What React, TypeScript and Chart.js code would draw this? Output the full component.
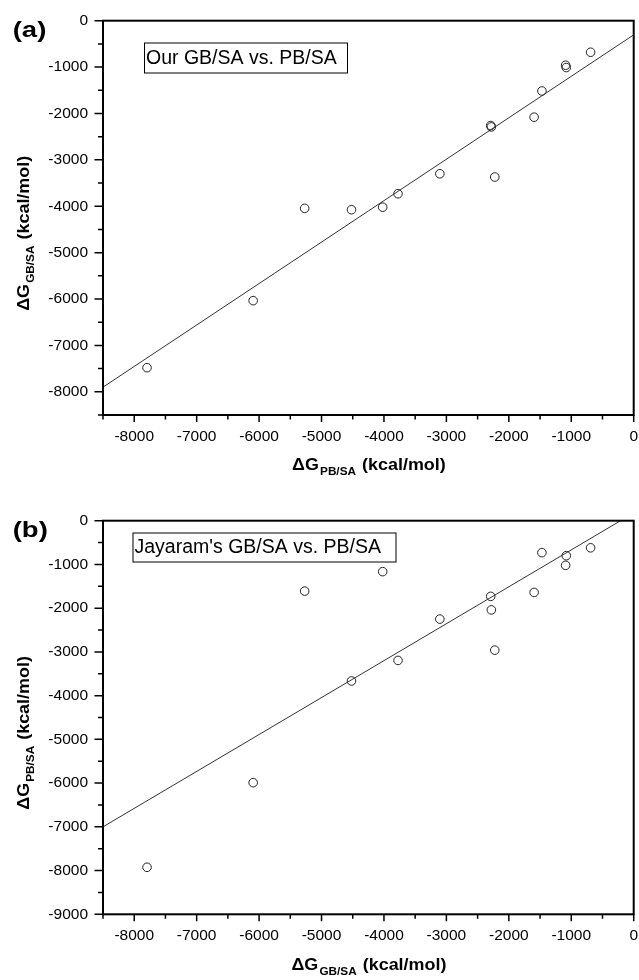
import React, { useEffect, useRef } from 'react';
import { Chart, registerables } from 'chart.js';

Chart.register(...registerables);

// ---------- Data ----------
// Panel (a): x = ΔG PB/SA, y = ΔG GB/SA (our)
const panelAX = [-690, -1090, -1080, -1470, -1595, -2290, -2280, -2225, -3105, -3775, -4520, -4020, -5270, -6095, -7795];
const panelAY = [-680, -960, -1010, -1515, -2080, -2260, -2290, -3370, -3300, -3730, -4075, -4020, -4045, -6035, -7480];
const fitAX = [-8500, 0];
const fitAY = [-7900, -305];

// Panel (b): x = ΔG GB/SA (Jayaram), y = ΔG PB/SA
const panelBX = [-690, -1080, -1090, -1470, -1595, -2290, -2280, -2225, -3105, -3775, -4520, -4020, -5270, -6095, -7795];
const panelBY = [-620, -800, -1020, -730, -1640, -1730, -2040, -2960, -2250, -3195, -3665, -1165, -1610, -5990, -7925];
const fitBX = [-8500, -210];
const fitBY = [-7000, 0];

// Tick labels
const xTicks = [-8000, -7000, -6000, -5000, -4000, -3000, -2000, -1000, 0];
const yTicksA = [0, -1000, -2000, -3000, -4000, -5000, -6000, -7000, -8000];
const yTicksB = [0, -1000, -2000, -3000, -4000, -5000, -6000, -7000, -8000, -9000];

const FONT = '"Liberation Sans", Arial, Helvetica, sans-serif';

type PanelCfg = {
  xs: number[];
  ys: number[];
  fx: number[];
  fy: number[];
  yTicks: number[];
  yMin: number;
  top: number;
  bottomH: number;
  label: string;
  box: { x0: number; y0: number; x1: number; y1: number; text: string };
  xSub: string;
  ySub: string;
};

function drawAxisTitle(ctx: CanvasRenderingContext2D, cx: number, cy: number, sub: string, rotated: boolean) {
  const SX = 1.12;
  const main = `bold 16px ${FONT}`;
  const small = `bold 10.5px ${FONT}`;
  ctx.save();
  ctx.translate(cx, cy);
  if (rotated) ctx.rotate(-Math.PI / 2);
  ctx.scale(SX, 1);
  ctx.fillStyle = '#000';
  ctx.textBaseline = 'middle';
  ctx.textAlign = 'left';
  ctx.font = main;
  const w1 = ctx.measureText('\u0394G').width;
  const w3 = ctx.measureText(' (kcal/mol)').width;
  ctx.font = small;
  const w2 = ctx.measureText(sub).width + 1;
  let x = -(w1 + w2 + w3) / 2;
  ctx.font = main;
  ctx.fillText('\u0394G', x, 0);
  x += w1 + 1;
  ctx.font = small;
  ctx.fillText(sub, x, 6.5);
  x += w2;
  ctx.font = main;
  ctx.fillText(' (kcal/mol)', x, 0);
  ctx.restore();
}

function makeDecor(cfg: PanelCfg) {
  return {
    id: 'decor' + cfg.label,
    afterDraw(chart: any) {
      const ctx: CanvasRenderingContext2D = chart.ctx;
      const { left, right, top, bottom } = chart.chartArea;
      const xs = chart.scales.x;
      const ys = chart.scales.y;
      ctx.save();
      ctx.strokeStyle = '#000';
      // frame
      ctx.lineWidth = 2;
      ctx.strokeRect(left, top, right - left, bottom - top);
      // ticks
      ctx.lineWidth = 1.5;
      ctx.beginPath();
      for (let v = ys.min; v <= ys.max + 1e-6; v += 500) {
        const p = ys.getPixelForValue(v);
        const len = Math.round(v) % 1000 === 0 ? 8.5 : 5;
        ctx.moveTo(left - len, p);
        ctx.lineTo(left, p);
      }
      for (let v = xs.min; v <= xs.max + 1e-6; v += 500) {
        const p = xs.getPixelForValue(v);
        const len = Math.round(v) % 1000 === 0 ? 7 : 4.5;
        ctx.moveTo(p, bottom);
        ctx.lineTo(p, bottom + len);
      }
      ctx.stroke();

      // axis titles
      drawAxisTitle(ctx, (left + right) / 2, bottom + 51, cfg.xSub, false);
      drawAxisTitle(ctx, 25, (top + bottom) / 2 + 16, cfg.ySub, true);

      // panel label
      ctx.save();
      ctx.translate(12.7, top + 10.5);
      ctx.scale(1.25, 1);
      ctx.font = `bold 22px ${FONT}`;
      ctx.fillStyle = '#000';
      ctx.textBaseline = 'middle';
      ctx.textAlign = 'left';
      ctx.fillText(cfg.label, 0, 0);
      ctx.restore();

      // annotation box
      const b = cfg.box;
      ctx.lineWidth = 1;
      ctx.strokeRect(b.x0 + 0.5, b.y0 + 0.5, b.x1 - b.x0, b.y1 - b.y0);
      ctx.font = `19.5px ${FONT}`;
      ctx.fillStyle = '#000';
      ctx.textBaseline = 'middle';
      ctx.textAlign = 'left';
      ctx.fillText(b.text, b.x0 + 2, (b.y0 + b.y1) / 2 + 1);
      ctx.restore();
    },
  };
}

function Panel({ cfg }: { cfg: PanelCfg }) {
  const ref = useRef<HTMLCanvasElement>(null);
  useEffect(() => {
    const canvas = ref.current!;
    const pts = cfg.xs.map((x, i) => ({ x, y: cfg.ys[i] }));
    const fit = cfg.fx.map((x, i) => ({ x, y: cfg.fy[i] }));
    const chart = new Chart(canvas, {
      type: 'scatter',
      data: {
        datasets: [
          {
            type: 'line',
            data: fit,
            borderColor: '#333',
            borderWidth: 1,
            pointRadius: 0,
            fill: false,
          } as any,
          {
            data: pts,
            pointStyle: 'circle',
            pointRadius: 4.3,
            borderColor: '#222',
            borderWidth: 1,
            backgroundColor: 'rgba(0,0,0,0)',
          },
        ],
      },
      options: {
        animation: false,
        responsive: false,
        devicePixelRatio: 1,
        events: [],
        layout: { padding: { left: 0, right: 4, top: cfg.top, bottom: 0 } },
        plugins: { legend: { display: false }, tooltip: { enabled: false } },
        scales: {
          x: {
            type: 'linear',
            min: -8500,
            max: 0,
            grid: { display: false, drawTicks: false },
            border: { display: false },
            afterBuildTicks: (s: any) => {
              s.ticks = xTicks.map((v) => ({ value: v }));
            },
            afterFit: (s: any) => {
              s.height = cfg.bottomH;
              s.paddingLeft = 0;
              s.paddingRight = 0;
            },
            ticks: {
              color: '#000',
              padding: 12,
              maxRotation: 0,
              autoSkip: false,
              font: { family: FONT, size: 15.5 },
              callback: (v: any) => String(v),
            },
          },
          y: {
            type: 'linear',
            min: cfg.yMin,
            max: 0,
            grid: { display: false, drawTicks: false },
            border: { display: false },
            afterBuildTicks: (s: any) => {
              s.ticks = cfg.yTicks.map((v) => ({ value: v }));
            },
            afterFit: (s: any) => {
              s.width = 103;
              s.paddingTop = 0;
              s.paddingBottom = 0;
            },
            ticks: {
              color: '#000',
              padding: 15,
              autoSkip: false,
              font: { family: FONT, size: 15.5 },
              callback: (v: any) => String(v),
            },
          },
        },
      },
      plugins: [makeDecor(cfg)],
    });
    return () => chart.destroy();
  }, [cfg]);
  return <canvas ref={ref} width={639} height={490} style={{ display: 'block', width: '639px', height: '490px' }} />;
}

const cfgA: PanelCfg = {
  xs: panelAX,
  ys: panelAY,
  fx: fitAX,
  fy: fitAY,
  yTicks: yTicksA,
  yMin: -8500,
  top: 20.7,
  bottomH: 75,
  label: '(a)',
  box: { x0: 144, y0: 42.5, x1: 347, y1: 72.5, text: 'Our GB/SA vs. PB/SA' },
  xSub: 'PB/SA',
  ySub: 'GB/SA',
};

const cfgB: PanelCfg = {
  xs: panelBX,
  ys: panelBY,
  fx: fitBX,
  fy: fitBY,
  yTicks: yTicksB,
  yMin: -9000,
  top: 30.7,
  bottomH: 65.7,
  label: '(b)',
  box: { x0: 132.5, y0: 42.5, x1: 395.5, y1: 71.5, text: "Jayaram's GB/SA vs. PB/SA" },
  xSub: 'GB/SA',
  ySub: 'PB/SA',
};

export default function App() {
  useEffect(() => {
    document.body.style.margin = '0';
  }, []);
  return (
    <div style={{ width: 639, height: 980, background: '#fff' }}>
      <Panel cfg={cfgA} />
      <Panel cfg={cfgB} />
    </div>
  );
}
